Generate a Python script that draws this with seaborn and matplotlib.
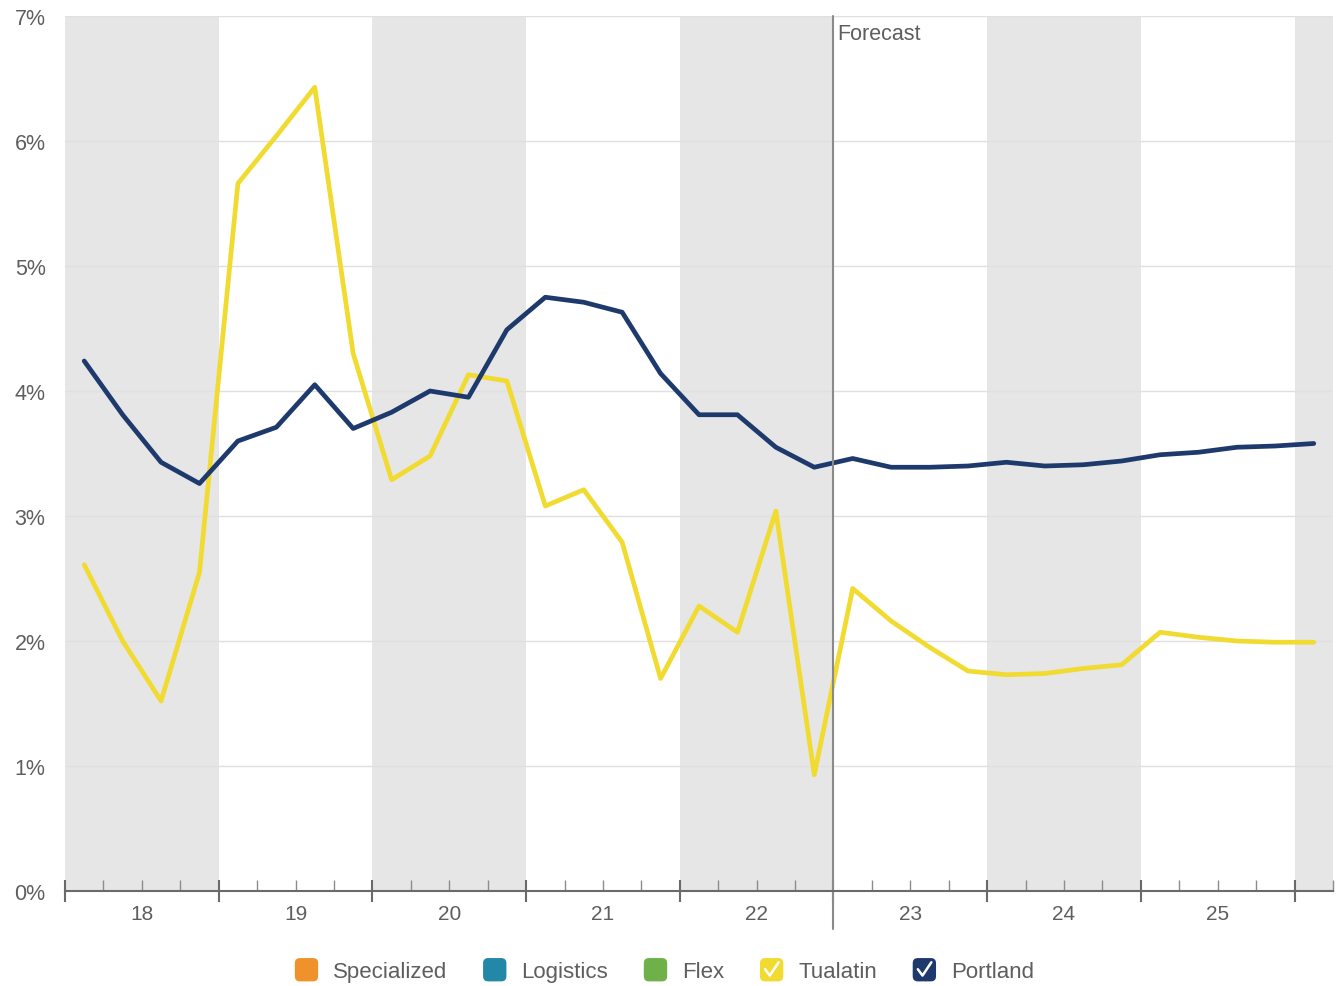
import numpy as np
import pandas as pd
import matplotlib
matplotlib.use("Agg")
import matplotlib.pyplot as plt
from matplotlib.legend_handler import HandlerBase
from matplotlib.patches import FancyBboxPatch
from matplotlib.lines import Line2D
import seaborn as sns

# Quarterly vacancy rates, 2018 Q1 through 2026 Q1
start_year = 2018
tualatin = [2.61, 2.00, 1.52, 2.55, 5.66, 6.04, 6.43, 4.30, 3.29, 3.48, 4.13,
            4.08, 3.08, 3.21, 2.79, 1.70, 2.28, 2.07, 3.04, 0.93, 2.42, 2.16,
            1.95, 1.76, 1.73, 1.74, 1.78, 1.81, 2.07, 2.03, 2.00, 1.99, 1.99]
portland = [4.24, 3.81, 3.43, 3.26, 3.60, 3.71, 4.05, 3.70, 3.83, 4.00, 3.95,
            4.49, 4.75, 4.71, 4.63, 4.14, 3.81, 3.81, 3.55, 3.39, 3.46, 3.39,
            3.39, 3.40, 3.43, 3.40, 3.41, 3.44, 3.49, 3.51, 3.55, 3.56, 3.58]
year_labels = ["18", "19", "20", "21", "22", "23", "24", "25"]
y_ticks = [0, 1, 2, 3, 4, 5, 6, 7]
forecast_start = 2023
legend_names = ["Specialized", "Logistics", "Flex", "Tualatin", "Portland"]
legend_checked = [False, False, False, True, True]

colors = {
    "Specialized": "#F0922B",
    "Logistics": "#2387A8",
    "Flex": "#6DB148",
    "Tualatin": "#F1DB30",
    "Portland": "#1E3A6D",
}

n = len(tualatin)
quarter_pos = start_year + (np.arange(n) + 0.5) / 4.0
df = pd.concat([
    pd.DataFrame({"x": quarter_pos, "rate": tualatin, "market": "Tualatin"}),
    pd.DataFrame({"x": quarter_pos, "rate": portland, "market": "Portland"}),
])

sns.set_theme(style="white")
plt.rcParams["font.family"] = ["Liberation Sans", "DejaVu Sans"]
text_gray = "#5E5E5E"

fig = plt.figure(figsize=(13.37, 9.87), dpi=100)
ax = fig.add_axes([65 / 1337, 1 - 892 / 987, 1268 / 1337, 875 / 987])

x_end = start_year + n / 4.0
# alternating year bands
for yr in range(start_year, int(np.ceil(x_end)) + 1, 2):
    ax.axvspan(yr, min(yr + 1, x_end), color="#E6E6E6", lw=0, zorder=0)

for yv in y_ticks[1:]:
    ax.axhline(yv, color="#E0E0E0", lw=1, zorder=1)

sns.lineplot(data=df, x="x", y="rate", hue="market",
             palette={"Tualatin": colors["Tualatin"], "Portland": colors["Portland"]},
             hue_order=["Tualatin", "Portland"], linewidth=3.4, legend=False,
             ax=ax, zorder=3)

ax.set_xlim(start_year, x_end)
ax.set_ylim(0, 7)
ax.set_xlabel("")
ax.set_ylabel("")

# y axis
ax.set_yticks(y_ticks)
ax.set_yticklabels([f"{v}%" for v in y_ticks], fontsize=15.5, color=text_gray)
ax.tick_params(axis="y", length=0, pad=14, left=False)

# x axis: year boundaries as major ticks, quarters as minor ticks
years = np.arange(start_year, int(np.floor(x_end)) + 1)
ax.set_xticks(years)
ax.set_xticklabels([])
ax.set_xticks(np.arange(start_year, x_end + 1e-9, 0.25), minor=True)
ax.tick_params(axis="x", which="both", bottom=True)
ax.tick_params(axis="x", which="major", direction="inout", length=16.5,
               width=1.5, color="#6A6A6A")
ax.tick_params(axis="x", which="minor", direction="in", length=8,
               width=1, color="#8C8C8C")
for i, lab in enumerate(year_labels):
    ax.annotate(lab, xy=(start_year + i + 0.5, 0), xytext=(0, -9),
                textcoords="offset points", ha="center", va="top",
                fontsize=15, color=text_gray, annotation_clip=False)

for s in ["top", "right", "left"]:
    ax.spines[s].set_visible(False)
ax.spines["bottom"].set_color("#6A6A6A")
ax.spines["bottom"].set_linewidth(1.5)
ax.spines["bottom"].set_zorder(4)

# forecast divider
ax.axvline(forecast_start, ymin=-0.043, ymax=1, color="#8A8A8A", lw=1.5,
           clip_on=False, zorder=4)
ax.annotate("Forecast", xy=(forecast_start, 7), xytext=(3, -5),
            textcoords="offset points", ha="left", va="top",
            fontsize=15.5, color=text_gray)


class SquareHandler(HandlerBase):
    def __init__(self, color, checked):
        super().__init__()
        self.color = color
        self.checked = checked

    def create_artists(self, legend, orig_handle, xdescent, ydescent,
                       width, height, fontsize, trans):
        s = width
        x0 = 0
        y0 = height / 2 - s / 2
        box = FancyBboxPatch((x0, y0), s, s,
                             boxstyle=f"round,pad=0,rounding_size={s * 0.22}",
                             facecolor=self.color, edgecolor="none",
                             transform=trans)
        arts = [box]
        if self.checked:
            chk = Line2D([x0 + 0.22 * s, x0 + 0.42 * s, x0 + 0.80 * s],
                         [y0 + 0.52 * s, y0 + 0.25 * s, y0 + 0.82 * s],
                         color="white", lw=1.8, transform=trans)
            arts.append(chk)
        return arts


handles = [Line2D([], [], label=nm) for nm in legend_names]
handler_map = {h: SquareHandler(colors[nm], ck)
               for h, nm, ck in zip(handles, legend_names, legend_checked)}
fig.legend(handles=handles, labels=legend_names, handler_map=handler_map,
           loc="center", bbox_to_anchor=(0.497, 1 - 973 / 987), ncol=5,
           frameon=False, fontsize=16, labelcolor=text_gray,
           handlelength=1.05, handletextpad=0.68, columnspacing=1.6)

fig.savefig("out.png", dpi=100, facecolor="white")
